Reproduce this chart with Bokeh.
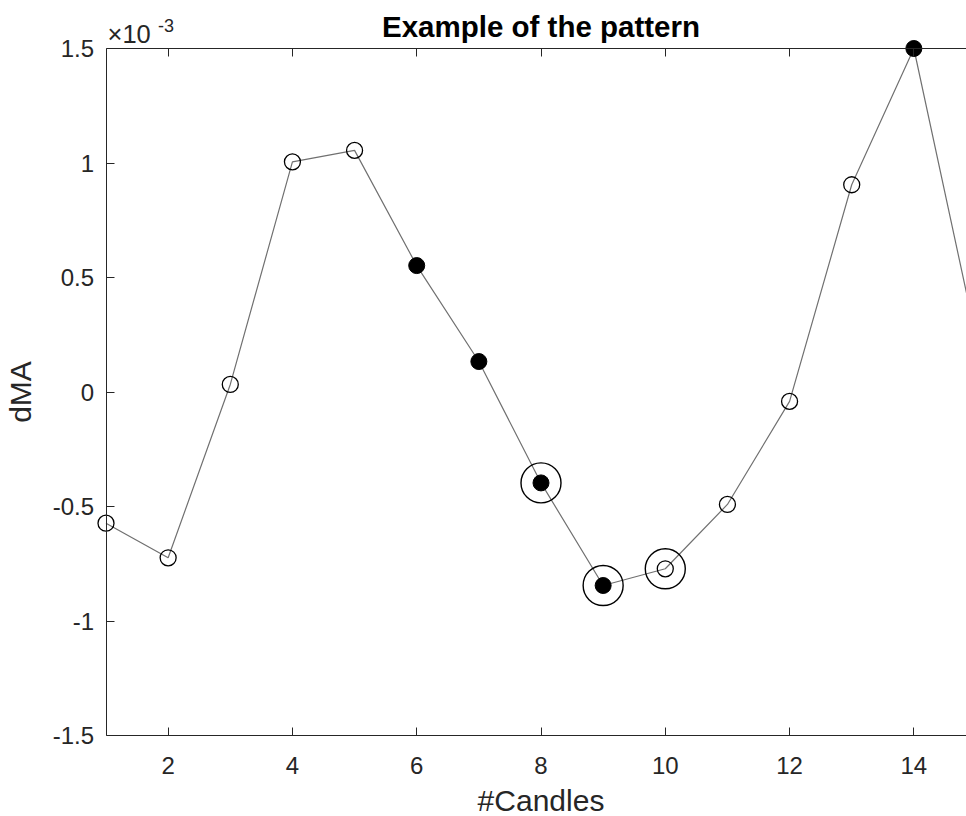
from math import pi
from bokeh.plotting import figure
from bokeh.models import (Range1d, LinearAxis, SingleIntervalTicker,
                          CustomJSTickFormatter, Label)
from bokeh.embed import file_html
from bokeh.resources import INLINE

# ---- data ----
candles = list(range(1, 16))
dma = [-0.573e-3, -0.724e-3, 0.033e-3, 1.005e-3, 1.055e-3, 0.552e-3, 0.133e-3,
       -0.397e-3, -0.845e-3, -0.772e-3, -0.491e-3, -0.041e-3, 0.905e-3, 1.500e-3,
       0.240e-3]
filled_idx = [6, 7, 8, 9, 14]          # candles drawn as filled dots
ringed_idx = [8, 9, 10]                # candles with the large ring
open_idx = [c for c in candles if c not in filled_idx]

x_lim = (1, 15)
y_lim = (-1.5e-3, 1.5e-3)

title_text = "Example of the pattern"
x_label = "#Candles"
y_label = "dMA"
exp_base = "\u00d710"
exp_power = "-3"

FONT = "Liberation Sans"
TXT = "#262626"

# ---- layout (pixels of the page) ----
W, H = 966, 816
AX_L, AX_R = 105.5, 975.5        # pixel of x_lim[0], x_lim[1] (right edge lies off-page)
AX_T, AX_B = 48.0, 735.0         # pixel of y_lim[1], y_lim[0]
sx = (AX_R - AX_L) / (x_lim[1] - x_lim[0])
sy = (AX_B - AX_T) / (y_lim[1] - y_lim[0])
x_range = Range1d(x_lim[0] - AX_L / sx, x_lim[0] + (W - AX_L) / sx)
y_range = Range1d(y_lim[0] - (H - AX_B) / sy, y_lim[1] + AX_T / sy)

x_open = [c for c in candles if c in open_idx]
y_open = [dma[c - 1] for c in x_open]
x_fill = [c for c in candles if c in filled_idx]
y_fill = [dma[c - 1] for c in x_fill]
x_ring = [c for c in candles if c in ringed_idx]
y_ring = [dma[c - 1] for c in x_ring]

p = figure(width=W, height=H, output_backend="svg", toolbar_location=None,
           title=None, x_range=x_range, y_range=y_range,
           min_border=0, min_border_left=0, min_border_right=0, min_border_top=0,
           min_border_bottom=0, background_fill_color="white",
           border_fill_color="white")
p.outline_line_color = None
p.grid.visible = False

yfmt = CustomJSTickFormatter(code="return String(Math.round(tick*1e4)/10);")

bottom = p.below[0]
left = p.left[0]
bottom.ticker = SingleIntervalTicker(interval=2, num_minor_ticks=0)
bottom.fixed_location = y_lim[0]
bottom.bounds = x_lim
bottom.major_label_standoff = 21
left.ticker = SingleIntervalTicker(interval=0.5e-3, num_minor_ticks=0)
left.formatter = yfmt
left.fixed_location = x_lim[0]
left.bounds = y_lim
left.major_label_standoff = 12

top = LinearAxis(ticker=SingleIntervalTicker(interval=2, num_minor_ticks=0),
                 fixed_location=y_lim[1], bounds=x_lim)
p.add_layout(top, "above")

for ax in (bottom, left, top):
    ax.axis_line_color = TXT
    ax.axis_line_width = 1
    ax.major_tick_line_color = TXT
    ax.major_tick_in = 8
    ax.major_tick_out = 0
    ax.minor_tick_line_color = None
    ax.major_label_text_font = FONT
    ax.major_label_text_color = TXT
    ax.major_label_text_font_size = "24px"
top.major_label_text_font_size = "0px"
top.major_label_text_color = None
top.major_label_standoff = 0

# data line and markers
p.line(candles, dma, line_color="#707070", line_width=1.2)
p.scatter(x_open, y_open, marker="circle", size=16, fill_color=None,
          line_color="black", line_width=1.3)
p.scatter(x_fill, y_fill, marker="circle", size=16, fill_color="black",
          line_color="black", line_width=1)
p.scatter(x_ring, y_ring, marker="circle", size=40, fill_color=None,
          line_color="black", line_width=1.4)

# texts
x_mid = (x_lim[0] + x_lim[1]) / 2
p.add_layout(Label(x=x_mid, y=y_lim[1], y_offset=22, text=title_text, text_align="center",
                   text_baseline="alphabetic", text_font=FONT, text_font_style="bold",
                   text_font_size="29.5px", text_color="black"))
p.add_layout(Label(x=x_mid, y=y_lim[0], y_offset=-64.5, text=x_label, text_align="center",
                   text_baseline="alphabetic", text_font=FONT, text_font_size="30px",
                   text_color=TXT))
p.add_layout(Label(x=x_lim[0], y=0, x_offset=-86, text=y_label, angle=pi / 2,
                   text_align="center", text_baseline="alphabetic", text_font=FONT,
                   text_font_size="30px", text_color=TXT))
p.add_layout(Label(x=x_lim[0], y=y_lim[1], x_offset=1.5, y_offset=14.5, text=exp_base,
                   text_align="left", text_baseline="alphabetic", text_font=FONT,
                   text_font_size="25.5px", text_color=TXT))
p.add_layout(Label(x=x_lim[0], y=y_lim[1], x_offset=52, y_offset=23, text=exp_power,
                   text_align="left", text_baseline="alphabetic", text_font=FONT,
                   text_font_size="18px", text_color=TXT))

open("out.html", "w").write(file_html(p, INLINE))
